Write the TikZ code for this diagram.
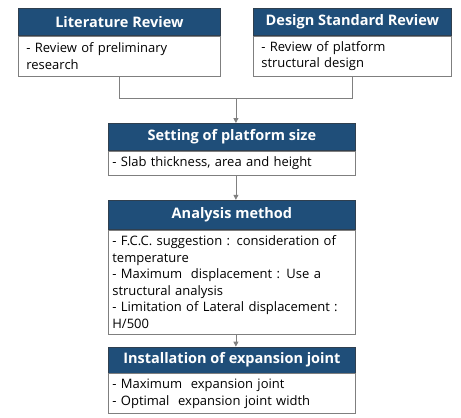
\documentclass[tikz,border=0pt]{standalone}
\usepackage{fontspec}
\setmainfont{Open Sans}
\usetikzlibrary{positioning, arrows.meta, calc}
\definecolor{headBlue}{HTML}{1F4E79}
\definecolor{headEdge}{HTML}{2F3F4F}
\definecolor{boxGray}{HTML}{7F7F7F}
\definecolor{flowGray}{HTML}{808080}

\begin{document}
\begin{tikzpicture}[
    >={Triangle[width=5pt,length=5pt]},
    node distance=0pt,
    head/.style={
        draw=headEdge, fill=headBlue, text=white, line width=0.8pt,
        minimum height=27pt, inner sep=0pt,
        font=\fontsize{14.5}{16}\selectfont\bfseries, align=center
    },
    body/.style={
        draw=boxGray, fill=white, line width=1pt,
        inner xsep=4pt, inner ysep=2pt,
        font=\fontsize{13}{16.5}\selectfont, align=left
    },
    flow/.style={draw=flowGray, line width=0.8pt},
]
\useasboundingbox (0,0) rectangle (461pt,-418pt);

% ============================================
% Top row: two review boxes
% ============================================
\node[head, minimum width=202pt, anchor=north west] (litHead) at (18pt,-8pt) {Literature Review};
\node[body, below=of litHead, inner xsep=8pt, text width=186pt, minimum height=40pt] (litBody)
    {- Review of preliminary\\research};

\node[head, minimum width=198pt, anchor=north west] (desHead) at (253pt,-8pt) {Design Standard Review};
\node[body, below=of desHead, inner xsep=8pt, text width=182pt, minimum height=40pt] (desBody)
    {- Review of platform\\structural design};

% ============================================
% Main column
% ============================================
\node[head, minimum width=247pt, anchor=north west] (sizeHead) at (108pt,-123pt) {Setting of platform size};
\node[body, below=of sizeHead, text width=239pt, minimum height=24pt] (sizeBody)
    {- Slab thickness, area and height};

\node[head, minimum width=247pt, minimum height=29pt, below=24pt of sizeBody] (anaHead) {Analysis method};
\node[body, below=of anaHead, text width=239pt, minimum height=104pt] (anaBody)
    {- F.C.C. suggestion : consideration of\\temperature\\
     - Maximum\ \ displacement : Use a\\structural analysis\\
     - Limitation of Lateral displacement :\\H/500};

\node[head, minimum width=247pt, minimum height=26pt, below=12pt of anaBody] (jointHead) {Installation of expansion joint};
\node[body, below=of jointHead, text width=239pt, minimum height=40pt] (jointBody)
    {- Maximum\ \ expansion joint\\- Optimal\ \ expansion joint width};

% ============================================
% Connections
% ============================================
\coordinate (merge) at ($(litBody.south)!0.5!(desBody.south) + (0,-22pt)$);

\draw[flow] (litBody.south) -- ++(0,-22pt) -| (desBody.south);
\draw[flow, ->] (merge) -- (merge |- sizeHead.north);
\draw[flow, ->] (merge |- sizeBody.south) -- (merge |- anaHead.north);
\draw[flow, ->] (merge |- anaBody.south) -- (merge |- jointHead.north);

\end{tikzpicture}
\end{document}
